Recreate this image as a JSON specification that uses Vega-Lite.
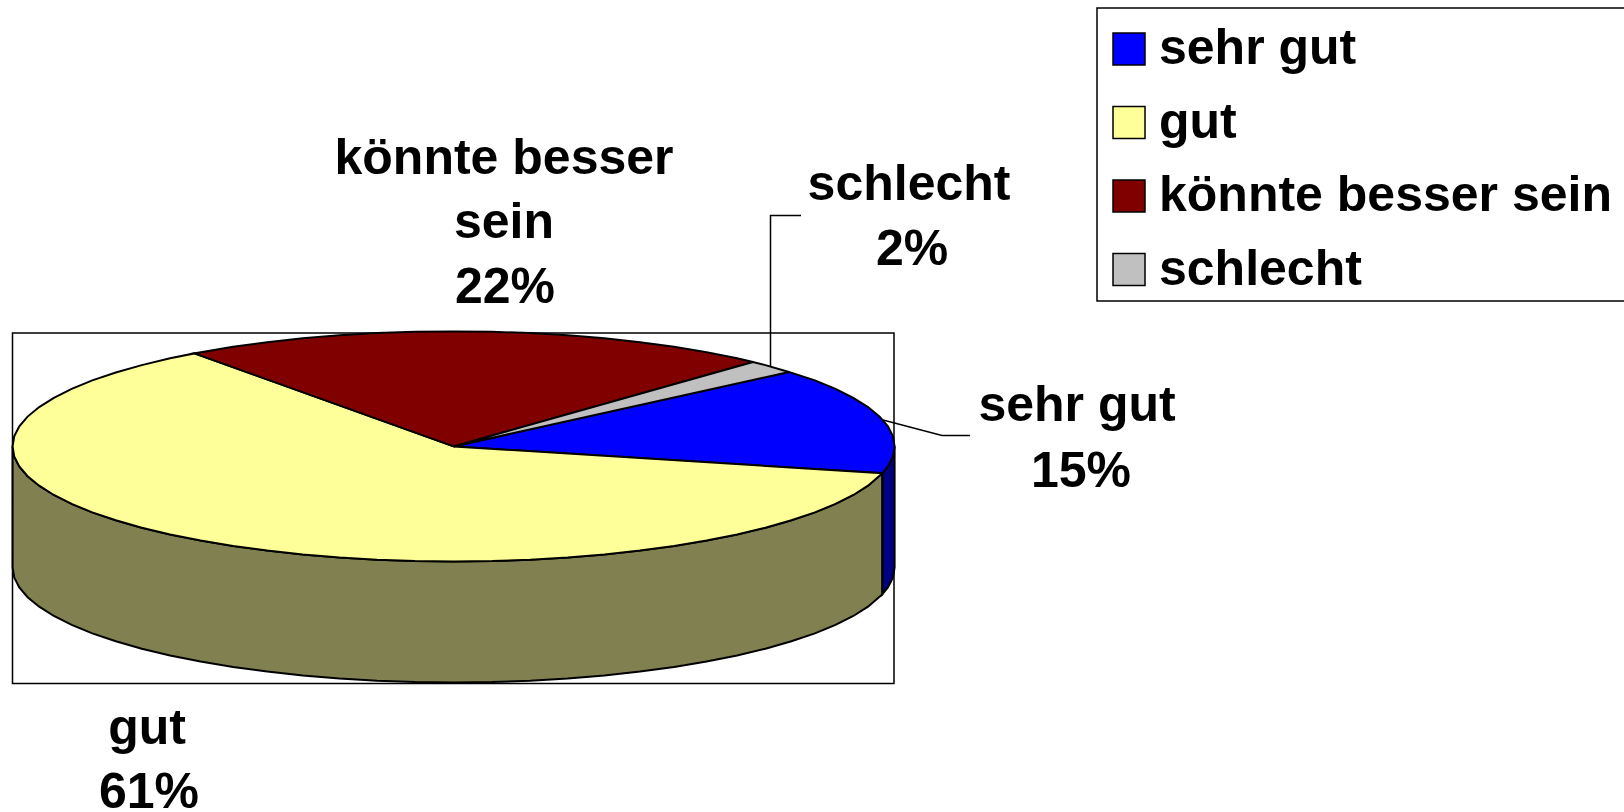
{"$schema":"https://vega.github.io/schema/vega-lite/v6.json","width":1624,"height":812,"padding":0,"autosize":"none","background":"white","view":{"stroke":null},
"resolve":{"scale":{"fill":"independent"},"legend":{"fill":"independent"}},
"datasets":{
"boxes":[{"box":"plot","x":12.5,"x2":894,"y":333,"y2":683.5},{"box":"legend","x":1097,"x2":1640,"y":8,"y2":301}],
"sides":[
{"part":"gut","i":1,"x":12.6,"y":446.4},{"part":"gut","i":2,"x":14.2,"y":456.4},{"part":"gut","i":3,"x":19.3,"y":466.4},{"part":"gut","i":4,"x":27.6,"y":476.2},{"part":"gut","i":5,"x":39.2,"y":485.7},{"part":"gut","i":6,"x":53.9,"y":495},{"part":"gut","i":7,"x":71.7,"y":503.9},{"part":"gut","i":8,"x":92.3,"y":512.4},{"part":"gut","i":9,"x":115.8,"y":520.3},{"part":"gut","i":10,"x":141.8,"y":527.7},{"part":"gut","i":11,"x":170.1,"y":534.5},{"part":"gut","i":12,"x":200.6,"y":540.6},{"part":"gut","i":13,"x":233.1,"y":546},{"part":"gut","i":14,"x":267.2,"y":550.6},{"part":"gut","i":15,"x":302.8,"y":554.5},{"part":"gut","i":16,"x":339.5,"y":557.5},{"part":"gut","i":17,"x":377,"y":559.7},{"part":"gut","i":18,"x":415.1,"y":561},{"part":"gut","i":19,"x":453.6,"y":561.4},{"part":"gut","i":20,"x":492.1,"y":561},{"part":"gut","i":21,"x":530.2,"y":559.7},{"part":"gut","i":22,"x":567.7,"y":557.5},{"part":"gut","i":23,"x":604.4,"y":554.5},{"part":"gut","i":24,"x":640,"y":550.6},{"part":"gut","i":25,"x":674.1,"y":546},{"part":"gut","i":26,"x":706.6,"y":540.6},{"part":"gut","i":27,"x":737.1,"y":534.5},{"part":"gut","i":28,"x":765.4,"y":527.7},{"part":"gut","i":29,"x":791.4,"y":520.3},{"part":"gut","i":30,"x":814.9,"y":512.4},{"part":"gut","i":31,"x":835.5,"y":503.9},{"part":"gut","i":32,"x":853.3,"y":495},{"part":"gut","i":33,"x":868,"y":485.7},{"part":"gut","i":34,"x":882.4,"y":473.2},
{"part":"gut","i":35,"x":882.4,"y":594.2},{"part":"gut","i":36,"x":868,"y":606.7},{"part":"gut","i":37,"x":853.3,"y":616},{"part":"gut","i":38,"x":835.5,"y":624.9},{"part":"gut","i":39,"x":814.9,"y":633.4},{"part":"gut","i":40,"x":791.4,"y":641.3},{"part":"gut","i":41,"x":765.4,"y":648.7},{"part":"gut","i":42,"x":737.1,"y":655.5},{"part":"gut","i":43,"x":706.6,"y":661.6},{"part":"gut","i":44,"x":674.1,"y":667},{"part":"gut","i":45,"x":640,"y":671.6},{"part":"gut","i":46,"x":604.4,"y":675.5},{"part":"gut","i":47,"x":567.7,"y":678.5},{"part":"gut","i":48,"x":530.2,"y":680.7},{"part":"gut","i":49,"x":492.1,"y":682},{"part":"gut","i":50,"x":453.6,"y":682.4},{"part":"gut","i":51,"x":415.1,"y":682},{"part":"gut","i":52,"x":377,"y":680.7},{"part":"gut","i":53,"x":339.5,"y":678.5},{"part":"gut","i":54,"x":302.8,"y":675.5},{"part":"gut","i":55,"x":267.2,"y":671.6},{"part":"gut","i":56,"x":233.1,"y":667},{"part":"gut","i":57,"x":200.6,"y":661.6},{"part":"gut","i":58,"x":170.1,"y":655.5},{"part":"gut","i":59,"x":141.8,"y":648.7},{"part":"gut","i":60,"x":115.8,"y":641.3},{"part":"gut","i":61,"x":92.3,"y":633.4},{"part":"gut","i":62,"x":71.7,"y":624.9},{"part":"gut","i":63,"x":53.9,"y":616},{"part":"gut","i":64,"x":39.2,"y":606.7},{"part":"gut","i":65,"x":27.6,"y":597.2},{"part":"gut","i":66,"x":19.3,"y":587.4},{"part":"gut","i":67,"x":14.2,"y":577.4},{"part":"gut","i":68,"x":12.6,"y":567.4},{"part":"gut","i":69,"x":12.6,"y":446.4},
{"part":"sehr gut","i":1,"x":882.4,"y":473.2},{"part":"sehr gut","i":2,"x":887.9,"y":466.4},{"part":"sehr gut","i":3,"x":893,"y":456.4},{"part":"sehr gut","i":4,"x":894.6,"y":446.4},{"part":"sehr gut","i":5,"x":894.6,"y":567.4},{"part":"sehr gut","i":6,"x":893,"y":577.4},{"part":"sehr gut","i":7,"x":887.9,"y":587.4},{"part":"sehr gut","i":8,"x":882.4,"y":594.2},{"part":"sehr gut","i":9,"x":882.4,"y":473.2}
],
"tops":[
{"slice":"sehr gut","i":1,"x":453.6,"y":446.4},{"slice":"sehr gut","i":2,"x":882.4,"y":473.2},{"slice":"sehr gut","i":3,"x":887.9,"y":466.4},{"slice":"sehr gut","i":4,"x":893,"y":456.4},{"slice":"sehr gut","i":5,"x":894.6,"y":446.4},{"slice":"sehr gut","i":6,"x":893,"y":436.4},{"slice":"sehr gut","i":7,"x":887.9,"y":426.4},{"slice":"sehr gut","i":8,"x":879.6,"y":416.6},{"slice":"sehr gut","i":9,"x":868,"y":407.1},{"slice":"sehr gut","i":10,"x":853.3,"y":397.8},{"slice":"sehr gut","i":11,"x":835.5,"y":388.9},{"slice":"sehr gut","i":12,"x":814.9,"y":380.4},{"slice":"sehr gut","i":13,"x":789,"y":372},{"slice":"sehr gut","i":14,"x":453.6,"y":446.4},
{"slice":"gut","i":1,"x":453.6,"y":446.4},{"slice":"gut","i":2,"x":194.4,"y":353.4},{"slice":"gut","i":3,"x":170.1,"y":358.3},{"slice":"gut","i":4,"x":141.8,"y":365.1},{"slice":"gut","i":5,"x":115.8,"y":372.5},{"slice":"gut","i":6,"x":92.3,"y":380.4},{"slice":"gut","i":7,"x":71.7,"y":388.9},{"slice":"gut","i":8,"x":53.9,"y":397.8},{"slice":"gut","i":9,"x":39.2,"y":407.1},{"slice":"gut","i":10,"x":27.6,"y":416.6},{"slice":"gut","i":11,"x":19.3,"y":426.4},{"slice":"gut","i":12,"x":14.2,"y":436.4},{"slice":"gut","i":13,"x":12.6,"y":446.4},{"slice":"gut","i":14,"x":14.2,"y":456.4},{"slice":"gut","i":15,"x":19.3,"y":466.4},{"slice":"gut","i":16,"x":27.6,"y":476.2},{"slice":"gut","i":17,"x":39.2,"y":485.7},{"slice":"gut","i":18,"x":53.9,"y":495},{"slice":"gut","i":19,"x":71.7,"y":503.9},{"slice":"gut","i":20,"x":92.3,"y":512.4},{"slice":"gut","i":21,"x":115.8,"y":520.3},{"slice":"gut","i":22,"x":141.8,"y":527.7},{"slice":"gut","i":23,"x":170.1,"y":534.5},{"slice":"gut","i":24,"x":200.6,"y":540.6},{"slice":"gut","i":25,"x":233.1,"y":546},{"slice":"gut","i":26,"x":267.2,"y":550.6},{"slice":"gut","i":27,"x":302.8,"y":554.5},{"slice":"gut","i":28,"x":339.5,"y":557.5},{"slice":"gut","i":29,"x":377,"y":559.7},{"slice":"gut","i":30,"x":415.1,"y":561},{"slice":"gut","i":31,"x":453.6,"y":561.4},{"slice":"gut","i":32,"x":492.1,"y":561},{"slice":"gut","i":33,"x":530.2,"y":559.7},{"slice":"gut","i":34,"x":567.7,"y":557.5},{"slice":"gut","i":35,"x":604.4,"y":554.5},{"slice":"gut","i":36,"x":640,"y":550.6},{"slice":"gut","i":37,"x":674.1,"y":546},{"slice":"gut","i":38,"x":706.6,"y":540.6},{"slice":"gut","i":39,"x":737.1,"y":534.5},{"slice":"gut","i":40,"x":765.4,"y":527.7},{"slice":"gut","i":41,"x":791.4,"y":520.3},{"slice":"gut","i":42,"x":814.9,"y":512.4},{"slice":"gut","i":43,"x":835.5,"y":503.9},{"slice":"gut","i":44,"x":853.3,"y":495},{"slice":"gut","i":45,"x":868,"y":485.7},{"slice":"gut","i":46,"x":882.4,"y":473.2},{"slice":"gut","i":47,"x":453.6,"y":446.4},
{"slice":"könnte besser sein","i":1,"x":453.6,"y":446.4},{"slice":"könnte besser sein","i":2,"x":753,"y":362},{"slice":"könnte besser sein","i":3,"x":737.1,"y":358.3},{"slice":"könnte besser sein","i":4,"x":706.6,"y":352.2},{"slice":"könnte besser sein","i":5,"x":674.1,"y":346.8},{"slice":"könnte besser sein","i":6,"x":640,"y":342.2},{"slice":"könnte besser sein","i":7,"x":604.4,"y":338.3},{"slice":"könnte besser sein","i":8,"x":567.7,"y":335.3},{"slice":"könnte besser sein","i":9,"x":530.2,"y":333.1},{"slice":"könnte besser sein","i":10,"x":492.1,"y":331.8},{"slice":"könnte besser sein","i":11,"x":453.6,"y":331.4},{"slice":"könnte besser sein","i":12,"x":415.1,"y":331.8},{"slice":"könnte besser sein","i":13,"x":377,"y":333.1},{"slice":"könnte besser sein","i":14,"x":339.5,"y":335.3},{"slice":"könnte besser sein","i":15,"x":302.8,"y":338.3},{"slice":"könnte besser sein","i":16,"x":267.2,"y":342.2},{"slice":"könnte besser sein","i":17,"x":233.1,"y":346.8},{"slice":"könnte besser sein","i":18,"x":194.4,"y":353.4},{"slice":"könnte besser sein","i":19,"x":453.6,"y":446.4},
{"slice":"schlecht","i":1,"x":453.6,"y":446.4},{"slice":"schlecht","i":2,"x":789,"y":372},{"slice":"schlecht","i":3,"x":765.4,"y":365.1},{"slice":"schlecht","i":4,"x":753,"y":362},{"slice":"schlecht","i":5,"x":453.6,"y":446.4}
],
"leaders":[
{"slice":"schlecht","i":1,"x":770.5,"y":366},{"slice":"schlecht","i":2,"x":770.5,"y":215.5},{"slice":"schlecht","i":3,"x":801,"y":215.5},
{"slice":"sehr gut","i":1,"x":883,"y":420},{"slice":"sehr gut","i":2,"x":942,"y":435.5},{"slice":"sehr gut","i":3,"x":970,"y":435.5}
],
"labels":[
{"text":"könnte besser","x":504,"y":174},{"text":"sein","x":504,"y":238},{"text":"22%","x":505,"y":303},
{"text":"schlecht","x":909,"y":200},{"text":"2%","x":912,"y":265},
{"text":"sehr gut","x":1077,"y":421},{"text":"15%","x":1081,"y":487},
{"text":"gut","x":147,"y":744},{"text":"61%","x":149,"y":808}
]},
"encoding":{
"x":{"field":"x","type":"quantitative","scale":{"domain":[0,1624],"nice":false,"zero":false},"axis":null},
"y":{"field":"y","type":"quantitative","scale":{"domain":[0,812],"reverse":true,"nice":false,"zero":false},"axis":null}
},
"layer":[
{"data":{"name":"boxes"},"mark":{"type":"rect","fill":"white","stroke":"black","strokeWidth":1.5,"clip":false},"encoding":{"x2":{"field":"x2"},"y2":{"field":"y2"}}},
{"data":{"name":"sides"},"mark":{"type":"line","stroke":"black","strokeWidth":2,"interpolate":"linear"},"encoding":{"order":{"field":"i","type":"quantitative"},"detail":{"field":"part"},"fill":{"field":"part","type":"nominal","legend":null,"scale":{"domain":["gut","sehr gut"],"range":["#808050","#000080"]}}}},
{"data":{"name":"tops"},"mark":{"type":"line","stroke":"black","strokeWidth":2,"interpolate":"linear"},"encoding":{"order":{"field":"i","type":"quantitative"},"detail":{"field":"slice"},"fill":{"field":"slice","type":"nominal","scale":{"domain":["sehr gut","gut","könnte besser sein","schlecht"],"range":["#0000ff","#ffff99","#800000","#c0c0c0"]},"legend":{"title":null,"orient":"none","legendX":1104,"legendY":24,"padding":0,"symbolType":"square","symbolSize":1024,"symbolStrokeColor":"black","symbolStrokeWidth":1.5,"symbolOpacity":1,"labelFont":"Liberation Sans","labelFontWeight":"bold","labelFontSize":50,"labelColor":"black","labelOffset":5,"rowPadding":23.5,"labelLimit":600}}}},
{"data":{"name":"leaders"},"mark":{"type":"line","stroke":"black","strokeWidth":1.5},"encoding":{"order":{"field":"i","type":"quantitative"},"detail":{"field":"slice"}}},
{"data":{"name":"labels"},"mark":{"type":"text","font":"Liberation Sans","fontWeight":"bold","fontSize":50,"color":"black","align":"center","baseline":"alphabetic"},"encoding":{"text":{"field":"text","type":"nominal"}}}
]}
